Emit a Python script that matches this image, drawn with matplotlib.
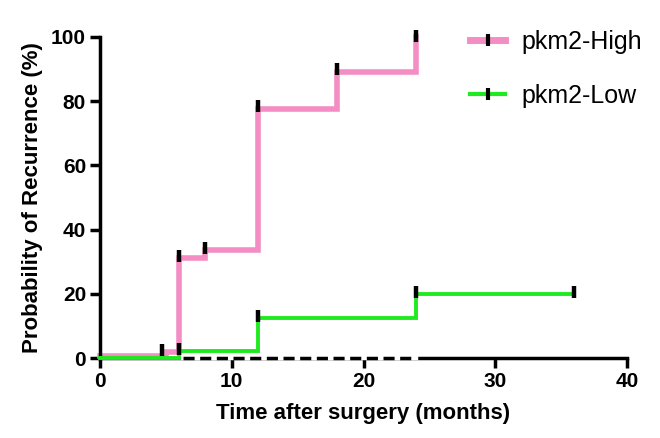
import matplotlib
matplotlib.use('Agg')
import matplotlib.pyplot as plt

# Kaplan-Meier style step curves
high_t = [0, 5, 6, 8, 12, 18, 24]
high_p = [0.7, 1.8, 31, 33.5, 77.5, 89, 100]
high_cens_t = [4.7, 6, 8, 12, 18, 24]
high_cens_p = [2.5, 31.8, 34.3, 78.5, 90, 100.3]

low_t = [0, 6, 12, 24, 36]
low_p = [0, 2.3, 12.4, 19.8, 19.8]
low_cens_t = [6, 12, 24, 36]
low_cens_p = [2.8, 13, 20.5, 20.6]

median_t = [6.3, 24]
median_p = [0, 0]

PINK = '#F38DC3'
GREEN = '#1FEA1F'

plt.rcParams['font.family'] = ['Liberation Sans', 'DejaVu Sans']

fig = plt.figure(figsize=(6.6, 4.38), dpi=100)
ax = fig.add_axes([100 / 660, 80 / 438, 527 / 660, 321 / 438])

ax.step(high_t, high_p, where='post', color=PINK, lw=4, solid_joinstyle='miter',
        zorder=2, clip_on=False)
# dashed stretch of the x axis
ax.plot(median_t, median_p, color='white', lw=3.2, zorder=3, clip_on=False)
ax.plot(median_t, median_p, color='black', lw=2.5, ls=(0, (3.2, 1.6)), zorder=3.5,
        clip_on=False)
ax.step(low_t, low_p, where='post', color=GREEN, lw=2.8, solid_joinstyle='miter',
        zorder=4, clip_on=False)

ax.plot(high_cens_t, high_cens_p, ls='none', marker='|', ms=8, mew=3.2,
        color='black', zorder=5, clip_on=False)
ax.plot(low_cens_t, low_cens_p, ls='none', marker='|', ms=8, mew=3.2,
        color='black', zorder=5, clip_on=False)

# legend handles
h1, = ax.plot([], [], color=PINK, lw=5, marker='|', ms=8, mew=3, mec='black')
h2, = ax.plot([], [], color=GREEN, lw=3, marker='|', ms=8, mew=3, mec='black')
ax.legend([h1, h2], ['pkm2-High', 'pkm2-Low'], loc='upper left',
          bbox_to_anchor=(460 / 660, 1 - 20 / 438), bbox_transform=fig.transFigure,
          frameon=False, fontsize=18, handlelength=1.4, handletextpad=0.65,
          labelspacing=1.2, borderaxespad=0)

ax.set_xlim(0, 40)
ax.set_ylim(0, 100)
ax.set_xticks([0, 10, 20, 30, 40])
ax.set_yticks([0, 20, 40, 60, 80, 100])

for s in ['top', 'right']:
    ax.spines[s].set_visible(False)
for s in ['left', 'bottom']:
    ax.spines[s].set_linewidth(2.5)
ax.tick_params(axis='both', direction='out', length=7, width=2.5, labelsize=15,
               pad=3)
for lab in ax.get_xticklabels() + ax.get_yticklabels():
    lab.set_fontweight('bold')

ax.set_xlabel('Time after surgery (months)', fontsize=16, fontweight='bold',
              labelpad=9)
ax.set_ylabel('Probability of Recurrence (%)', fontsize=16, fontweight='bold',
              labelpad=6)

fig.savefig('out.png', dpi=100)
